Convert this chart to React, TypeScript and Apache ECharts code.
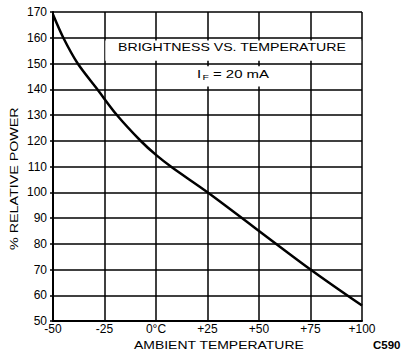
import React, { useEffect, useRef } from "react";
import * as echarts from "echarts";

const temps = [-50, -45, -38, -28.5, -19, -7.5, 0, 8, 25, 75, 100];
const power = [169, 160, 150, 140, 130, 120, 114.5, 109.5, 100, 70, 56];
const xTickLabels: Record<string, string> = {
  "-50": "-50",
  "-25": "-25",
  "0": "0°C",
  "25": "+25",
  "50": "+50",
  "75": "+75",
  "100": "+100",
};
const titleText = "BRIGHTNESS VS. TEMPERATURE";
const xName = "AMBIENT TEMPERATURE";
const yName = "% RELATIVE POWER";
const figCode = "C590";

const FONT = "Liberation Sans, Arial, sans-serif";

export default function App() {
  const ref = useRef<HTMLDivElement>(null);
  useEffect(() => {
    document.body.style.margin = "0";
    const chart = echarts.init(ref.current!, null, { renderer: "svg" });
    const data = temps.map((t, i) => [t, power[i]]);
    chart.setOption({
      animation: false,
      backgroundColor: "#fff",
      grid: { left: 53, right: 42, top: 12, bottom: 31, show: false, outerBoundsMode: "none", containLabel: false },
      xAxis: {
        type: "value",
        min: -50,
        max: 100,
        interval: 25,
        axisLine: { show: true, onZero: false, lineStyle: { color: "#000", width: 2 } },
        axisTick: { show: false },
        splitLine: { show: true, lineStyle: { color: "#000", width: 1.5 } },
        axisLabel: {
          color: "#000",
          fontSize: 12,
          fontFamily: FONT,
          margin: 2,
          formatter: (v: number) => xTickLabels[String(v)] ?? String(v),
        },
      },
      yAxis: {
        type: "value",
        min: 50,
        max: 170,
        interval: 10,
        axisLine: { show: true, onZero: false, lineStyle: { color: "#000", width: 2 } },
        axisTick: { show: true, length: 3, lineStyle: { color: "#000", width: 1.5 } },
        splitLine: { show: true, lineStyle: { color: "#000", width: 1.5 } },
        axisLabel: { color: "#000", fontSize: 12, fontFamily: FONT, margin: 6 },
      },
      series: [
        {
          type: "line",
          data,
          smooth: 0.3,
          symbol: "none",
          lineStyle: { color: "#000", width: 2.5 },
          markArea: {
            silent: true,
            itemStyle: { color: "#fff", opacity: 1 },
            label: { show: false },
            data: [
              [{ coord: [-24.6, 158.9] }, { coord: [99.6, 151.1] }],
              [{ coord: [20, 148.9] }, { coord: [55, 141.1] }],
            ],
          },
        },
      ],
      graphic: [
        {
          type: "text",
          x: 118,
          y: 41,
          z: 100,
          scaleX: 1.23,
          style: { text: titleText, fill: "#000", font: `11.5px ${FONT}` },
        },
        {
          type: "text",
          x: 197,
          y: 67,
          z: 100,
          scaleX: 1.3,
          style: {
            text: "{a|I}{b|F}{a| = 20 mA}",
            rich: {
              a: { fill: "#000", font: `11.5px ${FONT}` },
              b: { fill: "#000", font: `8px ${FONT}`, padding: [6, 0, 0, 1] },
            },
          },
        },
        {
          type: "text",
          x: 134,
          y: 340,
          z: 100,
          scaleX: 1.33,
          style: { text: xName, fill: "#000", font: `10.5px ${FONT}` },
        },
        {
          type: "text",
          x: 9,
          y: 250,
          z: 100,
          rotation: Math.PI / 2,
          scaleX: 1.3,
          style: { text: yName, fill: "#000", font: `11px ${FONT}` },
        },
        {
          type: "text",
          x: 373,
          y: 339,
          z: 100,
          style: { text: figCode, fill: "#000", font: `bold 11.5px ${FONT}` },
        },
      ],
    });
    return () => chart.dispose();
  }, []);
  return <div ref={ref} style={{ width: 404, height: 352 }} />;
}
